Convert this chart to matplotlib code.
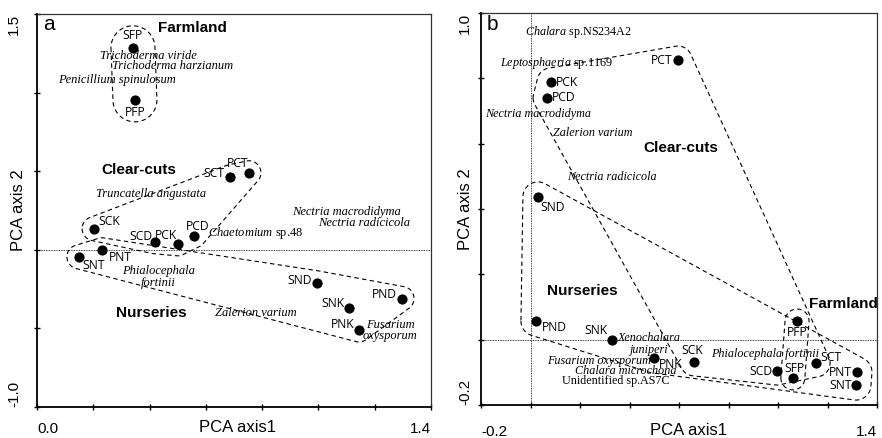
import numpy as np
import matplotlib
matplotlib.use('Agg')
import matplotlib.pyplot as plt

plt.rcParams['mathtext.fontset'] = 'custom'
plt.rcParams['mathtext.it'] = 'Liberation Serif:italic'
plt.rcParams['mathtext.rm'] = 'Liberation Serif'

# ---------------- data ----------------
a_sites = ['SFP', 'PFP', 'PCT', 'SCT', 'SCK', 'SCD', 'PCK', 'PCD', 'PNT', 'SNT', 'SND', 'PND', 'SNK', 'PNK']
a_x = [0.341, 0.348, 0.753, 0.686, 0.203, 0.419, 0.500, 0.558, 0.231, 0.149, 0.995, 1.297, 1.109, 1.144]
a_y = [1.285, 0.954, 0.490, 0.464, 0.134, 0.051, 0.038, 0.089, 0.000, -0.045, -0.210, -0.310, -0.370, -0.510]

b_sites = ['PCT', 'PCK', 'PCD', 'SND', 'PND', 'SNK', 'PNK', 'SCK', 'SCD', 'SFP', 'PFP', 'SCT', 'PNT', 'SNT']
b_x = [0.596, 0.083, 0.067, 0.030, 0.022, 0.329, 0.499, 0.661, 0.996, 1.060, 1.077, 1.154, 1.319, 1.315]
b_y = [0.856, 0.789, 0.740, 0.437, 0.057, 0.000, -0.056, -0.068, -0.096, -0.117, 0.057, -0.071, -0.099, -0.139]

group_farmland = ['SFP', 'PFP']
group_clearcuts = ['PCT', 'SCT', 'SCK', 'SCD', 'PCK', 'PCD']
group_nurseries = ['PNT', 'SNT', 'SND', 'PND', 'SNK', 'PNK']

a_xticks = [0.0, 0.2, 0.4, 0.6, 0.8, 1.0, 1.2, 1.4]
a_yticks = [-1.0, -0.5, 0.0, 0.5, 1.0, 1.5]
b_xticks = [-0.2, 0.0, 0.2, 0.4, 0.6, 0.8, 1.0, 1.2, 1.4]
b_yticks = [-0.2, 0.0, 0.2, 0.4, 0.6, 0.8, 1.0]

# label offsets (pixels) and alignment for site labels
a_lab = {
    'SFP': (0, 6, 'center', 'bottom'), 'PFP': (0, -6, 'center', 'top'),
    'PCT': (-11, 9, 'center', 'center'), 'SCT': (-6, 3, 'right', 'center'),
    'SCK': (4, 7, 'left', 'center'), 'SCD': (-2, 5, 'right', 'center'),
    'PCK': (-1, 8, 'right', 'center'), 'PCD': (4, 9, 'center', 'center'),
    'PNT': (7, -8, 'left', 'center'), 'SNT': (3, -9, 'left', 'center'),
    'SND': (-5, 2, 'right', 'center'), 'PND': (-5, 4, 'right', 'center'),
    'SNK': (-5, 4, 'right', 'center'), 'PNK': (-4, 5, 'right', 'center'),
}
b_lab = {
    'PCT': (-6, 0, 'right', 'center'), 'PCK': (5, -1, 'left', 'center'),
    'PCD': (5, 0, 'left', 'center'), 'SND': (2, -11, 'left', 'center'),
    'PND': (6, -6, 'left', 'center'), 'SNK': (-4, 9, 'right', 'center'),
    'PNK': (5, -7, 'left', 'center'), 'SCK': (-2, 11, 'center', 'center'),
    'SCD': (-5, 0, 'right', 'center'), 'SFP': (2, 9, 'center', 'center'),
    'PFP': (0, -11, 'center', 'center'), 'SCT': (4, 5, 'left', 'center'),
    'PNT': (-5, 0, 'right', 'center'), 'SNT': (-4, 0, 'right', 'center'),
}

SANS = 'Liberation Sans'
SERIF = 'Liberation Serif'
LABF = 'Open Sans'


def convex_hull(points):
    pts = sorted(set(map(tuple, points)))
    def cross(o, a, b):
        return (a[0] - o[0]) * (b[1] - o[1]) - (a[1] - o[1]) * (b[0] - o[0])
    lower = []
    for p in pts:
        while len(lower) >= 2 and cross(lower[-2], lower[-1], p) <= 0:
            lower.pop()
        lower.append(p)
    upper = []
    for p in reversed(pts):
        while len(upper) >= 2 and cross(upper[-2], upper[-1], p) <= 0:
            upper.pop()
        upper.append(p)
    return lower[:-1] + upper[:-1]


def envelope(ax, sites, xs, ys, group, r):
    idx = [sites.index(s) for s in group]
    pts = np.column_stack([np.array(xs)[idx], np.array(ys)[idx]])
    disp = ax.transData.transform(pts)
    t = np.linspace(0, 2 * np.pi, 90, endpoint=False)
    ring = np.concatenate([d + r * np.column_stack([np.cos(t), np.sin(t)]) for d in disp])
    h = np.array(convex_hull(ring))
    h = np.vstack([h, h[:1]])
    dat = ax.transData.inverted().transform(h)
    ax.plot(dat[:, 0], dat[:, 1], color='black', lw=0.8, ls=(0, (4, 3)), zorder=2)


def style_axes(ax, xticks, yticks, xpad, ypad):
    for s in ['left', 'bottom']:
        ax.spines[s].set_linewidth(1.3)
        ax.spines[s].set_color('black')
    for s in ['top', 'right']:
        ax.spines[s].set_linewidth(0.9)
        ax.spines[s].set_color('#333333')
    ax.set_xticks(xticks)
    ax.set_yticks(yticks)
    ax.set_xticklabels([f'{xticks[0]:.1f}'] + [''] * (len(xticks) - 2) + [f'{xticks[-1]:.1f}'],
                       fontfamily=SANS, fontsize=11)
    ax.set_yticklabels([f'{yticks[0]:.1f}'] + [''] * (len(yticks) - 2) + [f'{yticks[-1]:.1f}'],
                       fontfamily=SANS, fontsize=11, rotation=90)
    ax.tick_params(axis='x', direction='inout', length=5, width=1, pad=xpad)
    ax.tick_params(axis='y', direction='inout', length=5, width=1, pad=ypad)
    xl = ax.get_xticklabels()
    xl[0].set_ha('left')
    xl[-1].set_ha('right')
    yl = ax.get_yticklabels()
    yl[0].set_va('bottom')
    yl[-1].set_va('top')


def site_points(ax, sites, xs, ys, labs):
    ax.scatter(xs, ys, s=54, color='black', zorder=4, linewidths=0)
    for s, x, y in zip(sites, xs, ys):
        dx, dy, ha, va = labs[s]
        ax.annotate(s, (x, y), xytext=(dx, dy), textcoords='offset pixels',
                    ha=ha, va=va, fontsize=8.7, fontfamily=LABF, zorder=5)


def species(ax, x, y, txt, ha='left', size=9):
    ax.text(x, y, txt, ha=ha, va='center', fontsize=size, fontfamily=SERIF,
            style='italic', zorder=5, linespacing=0.95)


def species_mixed(ax, x, y, genus, rest, size=9):
    ax.text(x, y, r'$\mathit{' + genus + '}$ ' + rest, ha='left', va='center',
            fontsize=size, fontfamily=SERIF, zorder=5)


def group_label(ax, x, y, txt):
    ax.text(x, y, txt, ha='center', va='center', fontsize=11, fontweight='bold',
            fontfamily=SANS, zorder=5)


fig = plt.figure(figsize=(8.82, 4.38), dpi=100)

# ---------------- panel a ----------------
axa = fig.add_axes([37 / 882, 31 / 438, 394 / 882, 393 / 438])
axa.set_xlim(0.0, 1.4)
axa.set_ylim(-1.0, 1.5)
style_axes(axa, a_xticks, a_yticks, xpad=8, ypad=9)
axa.axhline(0, color='black', lw=0.6, ls=(0, (1, 1)), zorder=1)
envelope(axa, a_sites, a_x, a_y, group_farmland, 22)
envelope(axa, a_sites, a_x, a_y, group_clearcuts, 12)
envelope(axa, a_sites, a_x, a_y, group_nurseries, 12)
site_points(axa, a_sites, a_x, a_y, a_lab)

axa.text(0.021, 1.431, 'a', fontsize=15, fontfamily=SANS, va='center', ha='left')
group_label(axa, 0.554, 1.412, 'Farmland')
group_label(axa, 0.361, 0.509, 'Clear-cuts')
group_label(axa, 0.407, -0.401, 'Nurseries')
species(axa, 0.224, 1.234, 'Trichoderma viride')
species(axa, 0.266, 1.170, 'Trichoderma harzianum')
species(axa, 0.075, 1.081, 'Penicillium spinulosum')
species(axa, 0.210, 0.356, 'Truncatella angustata')
species(axa, 0.906, 0.242, 'Nectria macrodidyma')
species(axa, 0.998, 0.172, 'Nectria radicicola')
species_mixed(axa, 0.608, 0.108, 'Chaetomium', 'sp.48')
species(axa, 0.432, -0.172, 'Phialocephala\nfortinii', ha='center')
species(axa, 0.632, -0.401, 'Zalerion varium')
species(axa, 1.254, -0.512, 'Fusarium\noxysporum', ha='center')

axa.set_xlabel('PCA axis1', fontfamily=SANS, fontsize=12)
axa.set_ylabel('PCA axis 2', fontfamily=SANS, fontsize=12)
axa.xaxis.set_label_coords(0.51, -0.051)
axa.yaxis.set_label_coords(-0.048, 0.5)
axa.xaxis.label.set_va('center')
axa.yaxis.label.set_va('center')

# ---------------- panel b ----------------
axb = fig.add_axes([481 / 882, 33 / 438, 396 / 882, 392 / 438])
axb.set_xlim(-0.2, 1.4)
axb.set_ylim(-0.2, 1.0)
style_axes(axb, b_xticks, b_yticks, xpad=12, ypad=4)
axb.axhline(0, color='black', lw=0.6, ls=(0, (1, 1)), zorder=1)
axb.axvline(0, color='black', lw=0.6, ls=(0, (1, 1)), zorder=1)
envelope(axb, b_sites, b_x, b_y, group_clearcuts, 14)
envelope(axb, b_sites, b_x, b_y, group_nurseries, 15)
envelope(axb, b_sites, b_x, b_y, group_farmland, 12)
site_points(axb, b_sites, b_x, b_y, b_lab)

bs = 8.7
axb.text(-0.175, 0.966, 'b', fontsize=15, fontfamily=SANS, va='center', ha='left')
group_label(axb, 0.608, 0.587, 'Clear-cuts')
group_label(axb, 0.208, 0.149, 'Nurseries')
group_label(axb, 1.265, 0.109, 'Farmland')
species_mixed(axb, -0.022, 0.942, 'Chalara', 'sp.NS234A2', size=bs)
species_mixed(axb, -0.123, 0.847, 'Leptosphaeria', 'sp.1169', size=bs)
species(axb, -0.184, 0.691, 'Nectria macrodidyma', size=bs)
species(axb, 0.091, 0.633, 'Zalerion varium', size=bs)
species(axb, 0.147, 0.498, 'Nectria radicicola', size=bs)
species(axb, 0.479, -0.013, 'Xenochalara\njuniperi', ha='center', size=bs)
species(axb, 0.067, -0.065, 'Fusarium oxysporum', size=bs)
species(axb, 0.180, -0.096, 'Chalara microchona', size=bs)
axb.text(0.127, -0.126, 'Unidentified sp.AS7C', ha='left', va='center', fontsize=bs,
         fontfamily=SERIF, zorder=5)
species(axb, 0.729, -0.044, 'Phialocephala fortinii', size=bs)

axb.set_xlabel('PCA axis1', fontfamily=SANS, fontsize=12)
axb.set_ylabel('PCA axis 2', fontfamily=SANS, fontsize=12)
axb.xaxis.set_label_coords(0.525, -0.066)
axb.yaxis.set_label_coords(-0.038, 0.5)
axb.xaxis.label.set_va('center')
axb.yaxis.label.set_va('center')

fig.savefig('out.png', dpi=100)
